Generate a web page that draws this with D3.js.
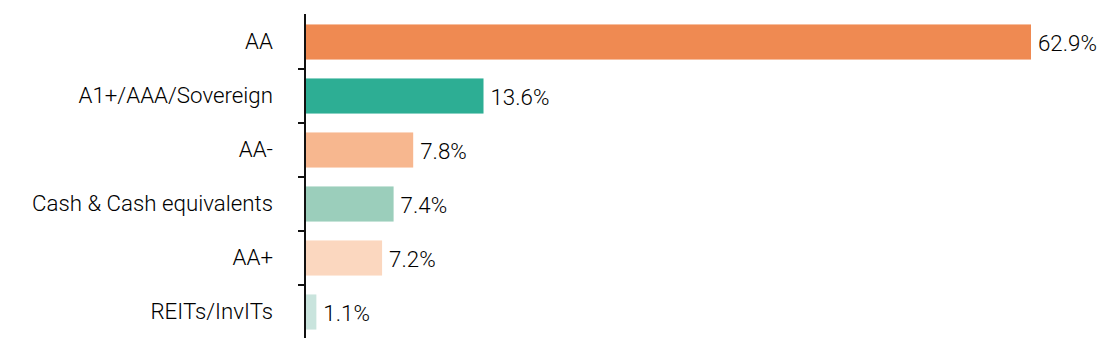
<!DOCTYPE html>
<html>
<head>
<meta charset="utf-8">
<script src="https://cdn.jsdelivr.net/npm/d3@7"></script>
<style>
  html, body { margin: 0; padding: 0; background: #fff; }
  svg text { font-family: Roboto, "DejaVu Sans Condensed", sans-serif; font-weight: 300; fill: #000; }
</style>
</head>
<body>
<svg id="chart" width="1112" height="353"></svg>
<script>
const categories = ["AA", "A1+/AAA/Sovereign", "AA-", "Cash & Cash equivalents", "AA+", "REITs/InvITs"];
const valueLabels = ["62.9%", "13.6%", "7.8%", "7.4%", "7.2%", "1.1%"];
// bar lengths as drawn in the reference (in % units)
const barValues = [62.9, 15.4, 9.3, 7.6, 6.6, 0.9];
const colors = ["#EF8A52", "#2DAE94", "#F7B78F", "#9BCEBB", "#FBD7BF", "#C9E4DD"];

const svg = d3.select("#chart");
const x0 = 306;
const x = d3.scaleLinear().domain([0, 62.9]).range([x0, 1031]);
const y = d3.scaleBand().domain(categories).range([15, 339])
  .paddingInner(0.35).paddingOuter(0.175);

svg.selectAll("rect.bar").data(categories).join("rect")
  .attr("class", "bar")
  .attr("x", x(0))
  .attr("y", d => y(d))
  .attr("width", (d, i) => x(barValues[i]) - x(0))
  .attr("height", y.bandwidth())
  .attr("fill", (d, i) => colors[i]);

// axis line
svg.append("line")
  .attr("x1", 305).attr("x2", 305)
  .attr("y1", 14).attr("y2", 338)
  .attr("stroke", "#111").attr("stroke-width", 2);

// ticks between bands
const step = y.step();
svg.selectAll("line.tick").data(categories.slice(1)).join("line")
  .attr("class", "tick")
  .attr("x1", 298).attr("x2", 305)
  .attr("y1", d => y(d) - step * y.paddingInner() / 2)
  .attr("y2", d => y(d) - step * y.paddingInner() / 2)
  .attr("stroke", "#111").attr("stroke-width", 2);

const sx = 0.97;
// category labels
svg.selectAll("text.cat").data(categories).join("text")
  .attr("class", "cat")
  .attr("transform", d => `translate(273,${y(d) + y.bandwidth() / 2 + 1}) scale(${sx},1)`)
  .attr("text-anchor", "end")
  .attr("dominant-baseline", "middle")
  .attr("font-size", 23)
  .text(d => d);

// value labels
svg.selectAll("text.val").data(categories).join("text")
  .attr("class", "val")
  .attr("transform", (d, i) => `translate(${x(barValues[i]) + 7},${y(d) + y.bandwidth() / 2 + 3}) scale(${sx},1)`)
  .attr("dominant-baseline", "middle")
  .attr("font-size", 23)
  .text((d, i) => valueLabels[i]);
</script>
</body>
</html>
